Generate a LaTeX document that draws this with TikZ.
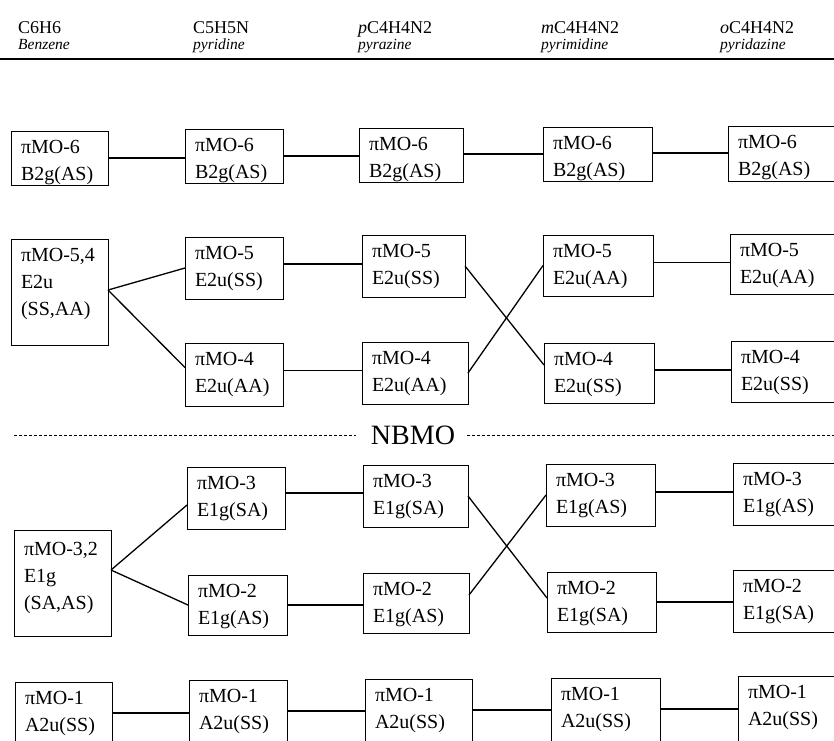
\documentclass[tikz,border=0pt]{standalone}
\usepackage{fontspec}
\setmainfont{Liberation Serif}
\tikzset{
  mo/.style={draw, line width=0.8pt, inner sep=0pt, outer sep=0pt, anchor=north west},
  conn/.style={line width=1.3pt},
  hdr/.style={anchor=base west, inner sep=0pt, font=\fontsize{18}{20}\selectfont},
  hdrit/.style={anchor=base west, inner sep=0pt, font=\fontsize{15.5}{18}\selectfont\itshape},
  dots/.style={line width=0.7pt, dash pattern=on 3pt off 2pt}
}
% name, x, y, w, h, first baseline, line1, line2
\newcommand\mobox[8]{%
  \node[mo] (#1) at (#2,#3) {\begin{minipage}[t][#5pt][t]{#4pt}\fontsize{20}{27}\selectfont\leftskip=10pt\rule{0pt}{#6pt}#7\\#8\end{minipage}};}
\begin{document}
\begin{tikzpicture}[x=1pt,y=-1pt]
\useasboundingbox (0,0) rectangle (834,740);
\clip (0,0) rectangle (834,740);

% headers
\node[hdr] (h1) at (18,33) {C6H6};
\node[hdrit] (h1b) at (18,49) {Benzene};
\node[hdr] (h2) at (193,33) {C5H5N};
\node[hdrit] (h2b) at (193,49) {pyridine};
\node[hdr] (h3) at (358,33) {\textit{p}C4H4N2};
\node[hdrit] (h3b) at (358,49) {pyrazine};
\node[hdr] (h4) at (541,33) {\textit{m}C4H4N2};
\node[hdrit] (h4b) at (541,49) {pyrimidine};
\node[hdr] (h5) at (720,33) {\textit{o}C4H4N2};
\node[hdrit] (h5b) at (720,49) {pyridazine};
\draw[line width=1.2pt] (0,59) -- (834,59);

% row MO-6
\mobox{a1}{11}{131}{97}{54}{22}{πMO-6}{B2g(AS)}
\mobox{a2}{185}{129}{98}{54}{22}{πMO-6}{B2g(AS)}
\mobox{a3}{359}{128}{104}{54}{22}{πMO-6}{B2g(AS)}
\mobox{a4}{543}{127}{109}{54}{22}{πMO-6}{B2g(AS)}
\mobox{a5}{728}{126}{130}{55}{22}{πMO-6}{B2g(AS)}

% rows MO-5, MO-4
\mobox{b1}{11}{239}{97}{106}{22}{πMO-5,4}{E2u\\(SS,AA)}
\mobox{b2}{185}{237}{98}{62}{22}{πMO-5}{E2u(SS)}
\mobox{b3}{362}{235}{103}{62}{22}{πMO-5}{E2u(SS)}
\mobox{b4}{543}{235}{110}{61}{22}{πMO-5}{E2u(AA)}
\mobox{b5}{730}{234}{130}{60}{22}{πMO-5}{E2u(AA)}
\mobox{c2}{185}{343}{98}{63}{22}{πMO-4}{E2u(AA)}
\mobox{c3}{362}{342}{106}{62}{22}{πMO-4}{E2u(AA)}
\mobox{c4}{544}{343}{110}{60}{22}{πMO-4}{E2u(SS)}
\mobox{c5}{731}{341}{130}{61}{22}{πMO-4}{E2u(SS)}

% NBMO
\node[inner sep=0pt, font=\fontsize{28}{30}\selectfont] (nbmo) at (413,435) {NBMO};
\coordinate (nl) at (14,435);
\coordinate (nr) at (834,435);
\draw[dots] (nl) -- ([xshift=-15pt]nbmo.west);
\draw[dots] ([xshift=12pt]nbmo.east) -- (nr);

% rows MO-3, MO-2
\mobox{d1}{14}{530}{97}{106}{25}{πMO-3,2}{E1g\\(SA,AS)}
\mobox{d2}{187}{467}{98}{62}{22}{πMO-3}{E1g(SA)}
\mobox{d3}{363}{465}{105}{62}{22}{πMO-3}{E1g(SA)}
\mobox{d4}{546}{464}{109}{62}{22}{πMO-3}{E1g(AS)}
\mobox{d5}{733}{463}{130}{62}{22}{πMO-3}{E1g(AS)}
\mobox{e2}{188}{575}{99}{60}{22}{πMO-2}{E1g(AS)}
\mobox{e3}{363}{573}{106}{60}{22}{πMO-2}{E1g(AS)}
\mobox{e4}{547}{572}{109}{60}{22}{πMO-2}{E1g(SA)}
\mobox{e5}{733}{570}{130}{62}{22}{πMO-2}{E1g(SA)}

% row MO-1
\mobox{f1}{15}{682}{97}{70}{22}{πMO-1}{A2u(SS)}
\mobox{f2}{189}{680}{98}{70}{22}{πMO-1}{A2u(SS)}
\mobox{f3}{365}{679}{107}{70}{22}{πMO-1}{A2u(SS)}
\mobox{f4}{551}{678}{109}{70}{22}{πMO-1}{A2u(SS)}
\mobox{f5}{738}{676}{130}{70}{22}{πMO-1}{A2u(SS)}

% connectors
\draw[conn] (a1.east) -- (a1.east -| a2.west);
\draw[conn] (a2.east) -- (a2.east -| a3.west);
\draw[conn] ([yshift=1pt]a3.east) -- ([yshift=1pt]a3.east -| a4.west);
\draw[conn] ([yshift=1pt]a4.east) -- ([yshift=1pt]a4.east -| a5.west);

\draw[conn] ([yshift=2pt]b1.east) -- (b2.west);
\draw[conn] ([yshift=2pt]b1.east) -- ([yshift=7pt]c2.west);
\draw[conn] ([yshift=4pt]b2.east) -- ([yshift=4pt]b2.east -| b3.west);
\draw[conn] ([yshift=4pt]c2.east) -- ([yshift=4pt]c2.east -| c3.west);
\draw[conn] (b3.east) -- ([yshift=8pt]c4.west);
\draw[conn] (c3.east) -- (b4.west);
\draw[conn] ([yshift=3pt]b4.east) -- ([yshift=3pt]b4.east -| b5.west);
\draw[conn] ([yshift=3pt]c4.east) -- ([yshift=3pt]c4.east -| c5.west);

\draw[conn] ([yshift=13pt]d1.east) -- ([yshift=-7pt]d2.west);
\draw[conn] ([yshift=13pt]d1.east) -- (e2.west);
\draw[conn] ([yshift=5pt]d2.east) -- ([yshift=5pt]d2.east -| d3.west);
\draw[conn] (e2.east) -- (e2.east -| e3.west);
\draw[conn] (d3.east) -- ([yshift=4pt]e4.west);
\draw[conn] ([yshift=8pt]e3.east) -- (d4.west);
\draw[conn] ([yshift=3pt]d4.east) -- ([yshift=3pt]d4.east -| d5.west);
\draw[conn] (e4.east) -- (e4.east -| e5.west);

\draw[conn] ([yshift=4pt]f1.east) -- ([yshift=4pt]f1.east -| f2.west);
\draw[conn] ([yshift=4pt]f2.east) -- ([yshift=4pt]f2.east -| f3.west);
\draw[conn] ([yshift=4pt]f3.east) -- ([yshift=4pt]f3.east -| f4.west);
\draw[conn] ([yshift=4pt]f4.east) -- ([yshift=4pt]f4.east -| f5.west);
\end{tikzpicture}
\end{document}
